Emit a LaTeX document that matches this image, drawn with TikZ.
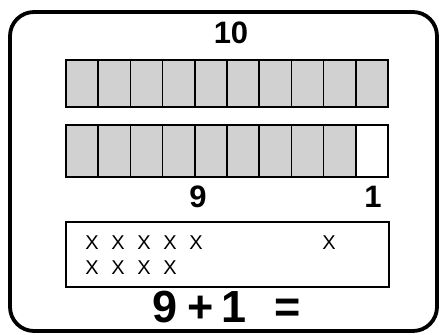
\documentclass[tikz,border=0pt]{standalone}
\usepackage{fontspec}
\setmainfont{Liberation Sans}
\tikzset{
  cellbox/.style={draw=black,line width=1.6pt,fill=black!18,minimum width=32.2pt,minimum height=47pt,inner sep=0pt,outer sep=0pt},
  emptycell/.style={cellbox,fill=white},
  numlbl/.style={font=\bfseries\fontsize{31}{33}\selectfont,inner sep=0pt,anchor=base},
  eqlbl/.style={font=\bfseries\fontsize{45}{48}\selectfont,inner sep=0pt,anchor=base},
  xmark/.style={font=\fontsize{20}{22}\selectfont,inner sep=0pt,anchor=base}
}
\begin{document}
\begin{tikzpicture}[x=1pt,y=-1pt]
\useasboundingbox (0,0) rectangle (448,335);
\draw[line width=3.8pt,rounded corners=24pt] (10,12) rectangle (437,331);
\node[numlbl] (ten) at (231,43) {10};
\foreach \i in {0,...,9} {
  \node[cellbox] (a\i) at ({82.1+32.2*\i},83.5) {};
}
\foreach \i in {0,...,8} {
  \node[cellbox,minimum height=52pt] (b\i) at ({82.1+32.2*\i},151) {};
}
\node[emptycell,minimum height=52pt] (b9) at ({82.1+32.2*9},151) {};
\node[numlbl] (nine) at (198,207) {9};
\node[numlbl] (one) at (373,207) {1};
\node[draw=black,line width=1.6pt,minimum width=323pt,minimum height=65pt,inner sep=0pt] (xbox) at (227.5,254.5) {};
\foreach \xx [count=\k] in {92,118,144,170,196} {
  \node[xmark] (xa\k) at (\xx,249) {X};
}
\node[xmark] (xa6) at (329,249) {X};
\foreach \xx [count=\k] in {92,118,144,170} {
  \node[xmark] (xb\k) at (\xx,274) {X};
}
\node[eqlbl] (e9) at (165,322) {9};
\node[eqlbl] (eplus) at (201,322) {+};
\node[eqlbl] (e1) at (234,322) {1};
\node[eqlbl] (eeq) at (288,322) {=};
\end{tikzpicture}
\end{document}
